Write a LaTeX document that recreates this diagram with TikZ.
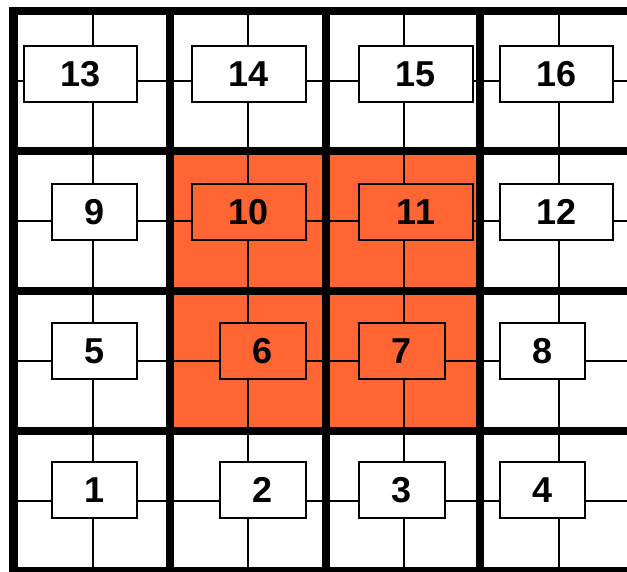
\documentclass[tikz,border=0pt]{standalone}
\usepackage{fontspec}
\setmainfont{Liberation Sans}
\definecolor{hot}{HTML}{FF6633}
\begin{document}
\begin{tikzpicture}[x=1pt,y=-1pt,
  cellbox/.style={draw=black, line width=2pt, minimum height=56pt, inner sep=0pt, outer sep=0pt,
    font=\fontsize{36}{36}\selectfont\bfseries},
  thinline/.style={line width=2pt, draw=black},
  gridline/.style={line width=8.5pt, draw=black, line cap=rect}]
\useasboundingbox (0,0) rectangle (627,571);
\clip (0,0) rectangle (627,571);
\fill[hot] (170,151) rectangle (480,431);
\foreach \n/\cx/\cy/\bx/\by/\bw/\fc in {
  13/93/81/80.5/74/113/white,
  14/248/81/249/74/114/white,
  15/404/81/416/74/114/white,
  16/559/81/556.5/74/113/white,
  9/93/221/94.5/212/85/white,
  10/248/221/249/212/114/hot,
  11/404/221/416/212/114/hot,
  12/559/221/556.5/212/113/white,
  5/93/361/94.5/351/85/white,
  6/248/361/263/351/86/hot,
  7/404/361/402/351/86/hot,
  8/559/361/542.5/351/85/white,
  1/93/501/94.5/490/85/white,
  2/248/501/263/490/86/white,
  3/404/501/402/490/86/white,
  4/559/501/542.5/490/85/white}{
  \node[cellbox, fill=\fc, minimum width=\bw pt] (b\n) at (\bx,\by) {\raisebox{-1.5pt}{\n}};
  \coordinate (L\n) at (\cx-80,\cy);
  \coordinate (R\n) at (\cx+80,\cy);
  \coordinate (T\n) at (\cx,\cy-72);
  \coordinate (B\n) at (\cx,\cy+72);
  \draw[thinline] (L\n) -- (L\n -| b\n.west);
  \draw[thinline] (R\n) -- (R\n -| b\n.east);
  \draw[thinline] (T\n) -- (T\n |- b\n.north);
  \draw[thinline] (B\n) -- (B\n |- b\n.south);
}
\foreach \yy in {11,151,291,431,571}{
  \draw[gridline] (13.5,\yy) -- (650,\yy);
}
\foreach \xx in {13.5,170,326,480}{
  \draw[gridline] (\xx,11) -- (\xx,590);
}
\end{tikzpicture}
\end{document}
